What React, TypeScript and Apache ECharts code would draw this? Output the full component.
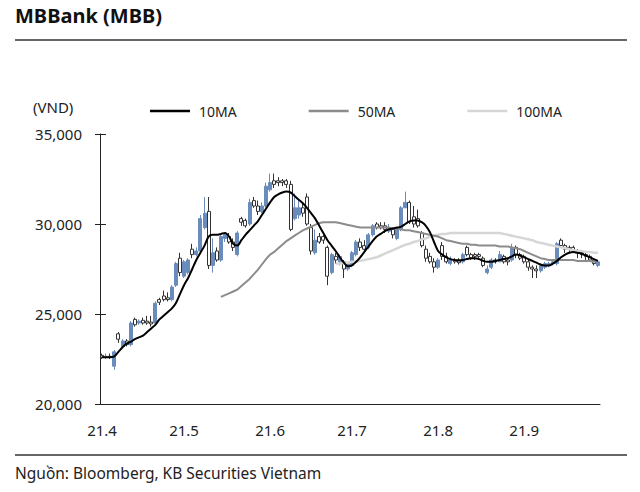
import React, { useEffect, useRef } from "react";
import * as echarts from "echarts";

const monthLabels = ["21.4", "21.5", "21.6", "21.7", "21.8", "21.9"];
const tradingDays = [20, 21, 20, 21, 21, 19];

// [open, close, low, high]
const candles: number[][] = [
  [22700, 22600, 22500, 22800], [22600, 22650, 22500, 22800], [22650, 22600, 22500, 22800], [22100, 22900, 21900, 23000],
  [23900, 23600, 23400, 24000], [23200, 23500, 23100, 23600], [23500, 23300, 23200, 23600], [23300, 24500, 23200, 24600],
  [24700, 24400, 24300, 24800], [24500, 24600, 24400, 24700], [24650, 24500, 24400, 24800], [24600, 24500, 24400, 24900],
  [24550, 24450, 24300, 24900], [24500, 25600, 24400, 25700], [25800, 25650, 25500, 25900], [26000, 25800, 25700, 26300],
  [25900, 25800, 25700, 26200], [25800, 26500, 25700, 26600], [26600, 27800, 26500, 27900], [28100, 27300, 27100, 28400],
  [27100, 27900, 27000, 28000], [27300, 28000, 27200, 28100], [28600, 28300, 28100, 28900], [28300, 28500, 28200, 28700],
  [28500, 30300, 28400, 30500], [29800, 30600, 29700, 31500], [30700, 27700, 27500, 31500], [27700, 28400, 27300, 29200],
  [28500, 28000, 27900, 28700], [28000, 29300, 27900, 29400], [29200, 29400, 29000, 29500], [29300, 29000, 28900, 29500],
  [29000, 28700, 28500, 29200], [28300, 29500, 28200, 29600], [30300, 30100, 29900, 30400], [30200, 29900, 29800, 30300],
  [30000, 31200, 29900, 31400], [31300, 31000, 30900, 31500], [31000, 30700, 30500, 31300], [30700, 31000, 30600, 31200],
  [31000, 32100, 30900, 32300], [31900, 32300, 31800, 32800], [32400, 32200, 32000, 32800], [32400, 32300, 32100, 32600],
  [32400, 32300, 32100, 32500], [32400, 32200, 32000, 32500], [32200, 29700, 29600, 32400], [30300, 30900, 30200, 31700],
  [30500, 30900, 30300, 31300], [30900, 30600, 30400, 31200], [31500, 30000, 29900, 31700], [29800, 28500, 28300, 30000],
  [28400, 29100, 28300, 29700], [29300, 29000, 28900, 29500], [29300, 29100, 28900, 29400], [28700, 27100, 26600, 28800],
  [27300, 28300, 27200, 28400], [28200, 28000, 27800, 28400], [27900, 28200, 27700, 28300], [27900, 27500, 27000, 28000],
  [27500, 27800, 27400, 27900], [27700, 28400, 27600, 28500], [28300, 29000, 28200, 29100], [29000, 28700, 28500, 29200],
  [28800, 28600, 28400, 29100], [28700, 29400, 28600, 29500], [29400, 29900, 29300, 30000], [30000, 29800, 29700, 30100],
  [29900, 29800, 29700, 30100], [29900, 29700, 29500, 30100], [29600, 29800, 29500, 30000], [29700, 29400, 29200, 29800],
  [29200, 29700, 29100, 29800], [29700, 30900, 29600, 31000], [30900, 31200, 30900, 31800], [31200, 30100, 30000, 31300],
  [30400, 30000, 29800, 31000], [30300, 29900, 29800, 30800], [29500, 28800, 28700, 29600], [28600, 28100, 27900, 28800],
  [28200, 27900, 27800, 28400], [27900, 27600, 27300, 28100], [27600, 28000, 27500, 28100], [28800, 28200, 28000, 29000],
  [28200, 27900, 27800, 28400], [27800, 28000, 27700, 28200], [28000, 27900, 27800, 28100], [27950, 27850, 27750, 28100],
  [27900, 28300, 27800, 28400], [28700, 28300, 28200, 28800], [28300, 28100, 28000, 28400], [28300, 28200, 28000, 28400],
  [28300, 28200, 28000, 28400], [28100, 27700, 27600, 28200], [27300, 27500, 27200, 27700], [27600, 28000, 27500, 28100],
  [28000, 27900, 27800, 28100], [27900, 28300, 27900, 28500], [28200, 27900, 27800, 28300], [28000, 27900, 27700, 28100],
  [28000, 28700, 27900, 28900], [28700, 28300, 28100, 28800], [28300, 28100, 28000, 28400], [28200, 27900, 27800, 28300],
  [27900, 27600, 27400, 28000], [27600, 27500, 27000, 27700], [27500, 27400, 27000, 27700], [27400, 27700, 27300, 27800],
  [27600, 27800, 27500, 27900], [27700, 27800, 27600, 27900], [27800, 27900, 27700, 28000], [27800, 28900, 27700, 29000],
  [29100, 28800, 28700, 29200], [28800, 28600, 28400, 28900], [28700, 28600, 28400, 28800], [28700, 28500, 28400, 28800],
  [28500, 28400, 28100, 28600], [28400, 28300, 28100, 28500], [28300, 28200, 28000, 28400], [28200, 28000, 27900, 28300],
  [28000, 27800, 27700, 28100], [27700, 27900, 27600, 28000],
];

const ma10: (number | null)[] = [
  22600, 22600, 22600, 22650, 22900, 23150, 23350, 23450, 23600, 23700,
  23800, 24000, 24200, 24400, 24700, 24900, 25100, 25300, 25600, 26100,
  26600, 27000, 27500, 28000, 28400, 28800, 29300, 29400, 29400, 29450,
  29500, 29300, 28900, 28800, 29100, 29400, 29650, 29900, 30150, 30500,
  30850, 31200, 31500, 31650, 31750, 31800, 31750, 31550, 31350, 31150,
  30900, 30600, 30300, 29900, 29500, 29100, 28800, 28500, 28150, 27850,
  27650, 27700, 27900, 28150, 28450, 28750, 29050, 29300, 29450, 29600,
  29700, 29750, 29800, 29850, 30000, 30150, 30200, 30200, 30100, 29900,
  29550, 29000, 28500, 28300, 28150, 28050, 28000, 27980, 28000, 28050,
  28100, 28100, 28050, 27950, 27900, 27900, 27950, 28000, 28050, 28100,
  28200, 28300, 28250, 28150, 28050, 27950, 27850, 27750, 27700, 27700,
  27800, 27950, 28150, 28300, 28400, 28450, 28400, 28350, 28250, 28150,
  28050, 27950,
];

const ma50: (number | null)[] = [
  null, null, null, null, null, null, null, null, null, null,
  null, null, null, null, null, null, null, null, null, null,
  null, null, null, null, null, null, null, null, null, 25950,
  26050, 26150, 26250, 26350, 26550, 26750, 26950, 27200, 27450, 27750,
  28050, 28300, 28450, 28650, 28850, 29050, 29200, 29350, 29500, 29650,
  29750, 29850, 29950, 30050, 30100, 30100, 30100, 30100, 30050, 30000,
  29950, 29900, 29850, 29800, 29800, 29800, 29800, 29800, 29800, 29800,
  29800, 29750, 29750, 29700, 29650, 29650, 29600, 29550, 29500, 29450,
  29400, 29350, 29300, 29200, 29100, 29050, 29000, 28950, 28900, 28900,
  28850, 28850, 28800, 28800, 28800, 28800, 28800, 28750, 28750, 28750,
  28700, 28650, 28600, 28500, 28400, 28300, 28200, 28100, 28050, 28000,
  28000, 28000, 28000, 28000, 28000, 28000, 27950, 27950, 27950, 27950,
  27900, 27900,
];

const ma100: (number | null)[] = [
  null, null, null, null, null, null, null, null, null, null,
  null, null, null, null, null, null, null, null, null, null,
  null, null, null, null, null, null, null, null, null, null,
  null, null, null, null, null, null, null, null, null, null,
  null, null, null, null, null, null, null, null, null, null,
  null, null, null, null, null, null, null, 27800, 27800, 27850,
  27850, 27900, 27900, 27950, 28000, 28050, 28100, 28150, 28250, 28350,
  28450, 28550, 28650, 28750, 28850, 28900, 29000, 29050, 29150, 29200,
  29300, 29350, 29400, 29450, 29450, 29500, 29500, 29500, 29500, 29500,
  29500, 29500, 29500, 29500, 29500, 29500, 29500, 29500, 29450, 29400,
  29350, 29300, 29250, 29200, 29150, 29100, 29000, 28950, 28900, 28850,
  28800, 28750, 28700, 28650, 28600, 28550, 28500, 28500, 28450, 28450,
  28400, 28400,
];

const yTicks = [20000, 25000, 30000, 35000];

const FONT = "'Noto Sans', 'Open Sans', sans-serif";

export default function App() {
  const ref = useRef<HTMLDivElement>(null);
  useEffect(() => {
    if (!ref.current) return;
    const chart = echarts.init(ref.current, undefined, { renderer: "svg" });

    const categories: string[] = [];
    const monthStart = new Set<number>();
    const labelAt: Record<number, string> = {};
    monthLabels.forEach((m, mi) => {
      monthStart.add(categories.length);
      labelAt[categories.length] = m;
      for (let d = 0; d < tradingDays[mi]; d++) categories.push(`${m}-${d + 1}`);
    });
    const isStart = (idx: number) => monthStart.has(idx);

    const yMin = yTicks[0];
    const yMax = yTicks[yTicks.length - 1];
    const yInt = yTicks[1] - yTicks[0];

    chart.setOption({
      animation: false,
      backgroundColor: "#ffffff",
      textStyle: { fontFamily: FONT },
      legend: {
        data: [
          { name: "10MA", icon: "rect" },
          { name: "50MA", icon: "rect" },
          { name: "100MA", icon: "rect" },
        ],
        left: 145,
        top: 99,
        itemWidth: 40,
        itemHeight: 2.5,
        itemGap: 72,
        textStyle: { fontSize: 14, color: "#222", fontFamily: FONT, padding: [0, 0, 0, 4] },
      },
      grid: { left: 100, right: 40, top: 134, bottom: 88, containLabel: false },
      xAxis: {
        type: "category",
        data: categories,
        boundaryGap: true,
        axisLine: { lineStyle: { color: "#222", width: 1 } },
        axisTick: {
          inside: true,
          length: 6,
          alignWithLabel: true,
          interval: (i: number) => isStart(i),
          lineStyle: { color: "#222" },
        },
        axisLabel: {
          interval: (i: number) => isStart(i),
          formatter: (_v: string, i: number) => labelAt[i] ?? "",
          fontSize: 15,
          color: "#222",
          margin: 18,
          fontFamily: FONT,
        },
        splitLine: { show: false },
      },
      yAxis: [
        {
          type: "value",
          min: yMin,
          max: yMax,
          interval: yInt,
          axisLine: { show: true, lineStyle: { color: "#222" } },
          axisTick: { show: true, length: 5, lineStyle: { color: "#222" } },
          axisLabel: {
            fontSize: 15,
            color: "#222",
            margin: 18,
            fontFamily: FONT,
            formatter: (v: number) => v.toLocaleString("en-US"),
          },
          splitLine: { show: false },
        },
        {
          type: "value",
          position: "left",
          min: yMin,
          max: yMax,
          interval: yInt,
          axisLine: { show: false },
          axisTick: { show: true, inside: true, length: 6, lineStyle: { color: "#222" } },
          axisLabel: { show: false },
          splitLine: { show: false },
        },
      ],
      graphic: [
        {
          type: "text",
          left: 15,
          top: 5,
          style: { text: "MBBank (MBB)", font: `bold 20px ${FONT}`, fill: "#111" },
        },
        {
          type: "line",
          shape: { x1: 15, y1: 40, x2: 627, y2: 40 },
          style: { stroke: "#333", lineWidth: 1.5 },
        },
        {
          type: "text",
          left: 33,
          top: 99,
          style: { text: "(VND)", font: `15px ${FONT}`, fill: "#222" },
        },
        {
          type: "line",
          shape: { x1: 15, y1: 455, x2: 627, y2: 455 },
          style: { stroke: "#333", lineWidth: 1.5 },
        },
        {
          type: "text",
          left: 15,
          top: 465,
          style: { text: "Nguồn: Bloomberg, KB Securities Vietnam", font: `15.5px ${FONT}`, fill: "#222" },
        },
      ],
      series: [
        {
          name: "OHLC",
          type: "candlestick",
          data: candles,
          barWidth: 3.5,
          itemStyle: {
            color: "#6a8cbc",
            color0: "#ffffff",
            borderColor: "#6a8cbc",
            borderColor0: "#333333",
            borderWidth: 1,
          },
          z: 2,
        },
        {
          name: "100MA",
          type: "line",
          data: ma100,
          symbol: "none",
          lineStyle: { color: "#d6d6d6", width: 2.5 },
          itemStyle: { color: "#d6d6d6" },
          z: 3,
        },
        {
          name: "50MA",
          type: "line",
          data: ma50,
          symbol: "none",
          lineStyle: { color: "#8c8c8c", width: 2 },
          itemStyle: { color: "#8c8c8c" },
          z: 4,
        },
        {
          name: "10MA",
          type: "line",
          data: ma10,
          symbol: "none",
          smooth: 0.3,
          lineStyle: { color: "#000000", width: 2 },
          itemStyle: { color: "#000000" },
          z: 5,
        },
      ],
    });
    return () => chart.dispose();
  }, []);
  return <div ref={ref} style={{ width: 640, height: 492, position: "absolute", left: 0, top: 0 }} />;
}
